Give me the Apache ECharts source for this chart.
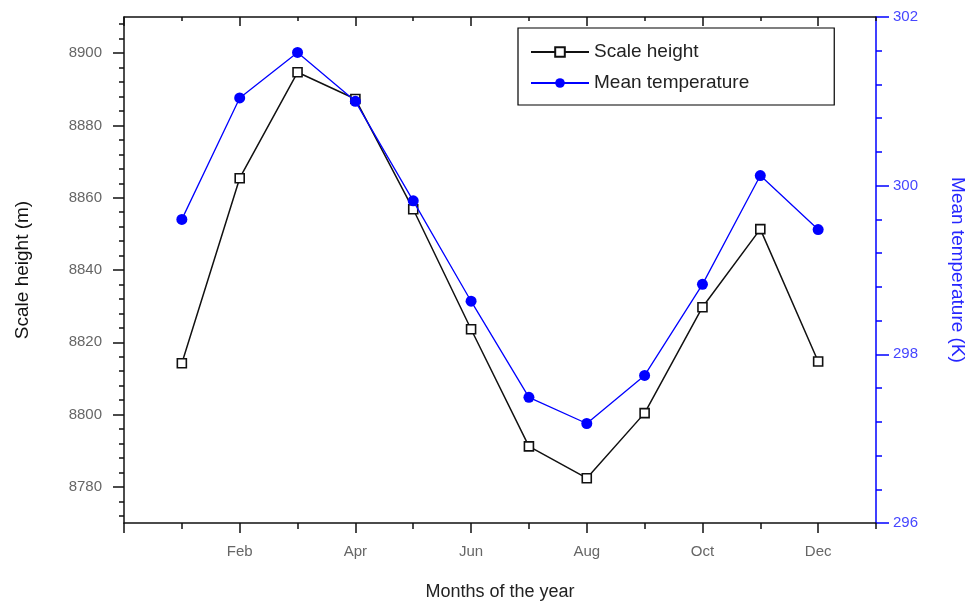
<!DOCTYPE html>
<html>
<head>
<meta charset="utf-8">
<script src="https://cdn.jsdelivr.net/npm/echarts@6/dist/echarts.min.js"></script>
<style>
  html, body { margin: 0; padding: 0; background: #fff; }
  #chart { width: 969px; height: 603px; }
</style>
</head>
<body>
<div id="chart"></div>
<script>
// Month positions on the x axis (1 = Jan ... 12 = Dec)
const months = ['Jan', 'Feb', 'Mar', 'Apr', 'May', 'Jun', 'Jul', 'Aug', 'Sep', 'Oct', 'Nov', 'Dec'];
const monthIndex = [1, 2, 3, 4, 5, 6, 7, 8, 9, 10, 11, 12];

// Scale height (m) per month
const scaleHeight = [8814.2, 8865.4, 8894.7, 8887.3, 8856.8, 8823.6, 8791.2, 8782.4, 8800.4, 8829.7, 8851.3, 8814.7];
// Mean temperature (K) per month
const meanTemp = [299.60, 301.04, 301.58, 301.00, 299.82, 298.63, 297.49, 297.18, 297.75, 298.83, 300.12, 299.48];

// Axis tick values
const xMajorTicks = [0, 2, 4, 6, 8, 10, 12];
const xMinorTicks = [1, 3, 5, 7, 9, 11, 13];
const xLabelTicks = [2, 4, 6, 8, 10, 12];
const leftLabelTicks = [8780, 8800, 8820, 8840, 8860, 8880, 8900];
const leftMinorTicks = [];
for (let v = 8772; v <= 8908; v += 4) leftMinorTicks.push(v);

const FONT = 'Arial, "Liberation Sans", sans-serif';
const BLUE = '#0000ff';

const chart = echarts.init(document.getElementById('chart'), null, { renderer: 'canvas' });

const xRange = { min: 0, max: 13 };
const hHidden = { axisLabel: { show: false }, splitLine: { show: false } };

chart.setOption({
  backgroundColor: '#ffffff',
  animation: false,
  grid: { left: 124, right: 93, top: 17, bottom: 80, containLabel: false, outerBoundsMode: 'none' },
  legend: {
    orient: 'vertical',
    left: 518,
    top: 28,
    padding: [14, 85, 12, 12],
    itemGap: 11,
    itemWidth: 58,
    itemHeight: 12,
    borderColor: '#000',
    borderWidth: 1.2,
    borderRadius: 0,
    textStyle: { fontFamily: FONT, fontSize: 19, color: '#222', lineHeight: 20 },
    data: ['Scale height', 'Mean temperature']
  },
  xAxis: [
    {
      type: 'value', position: 'bottom', ...xRange,
      name: 'Months of the year', nameLocation: 'middle', nameGap: 60,
      nameTextStyle: { fontFamily: FONT, fontSize: 18, color: '#222' },
      axisLine: { show: true, onZero: false, lineStyle: { color: '#111', width: 1.5 } },
      axisTick: { show: true, inside: false, length: 10, customValues: xMajorTicks, lineStyle: { color: '#111', width: 1.5 } },
      axisLabel: {
        show: true, customValues: xLabelTicks, margin: 21,
        fontFamily: FONT, fontSize: 15, color: '#666',
        formatter: v => months[Math.round(v) - 1] || ''
      },
      splitLine: { show: false }
    },
    {
      type: 'value', position: 'bottom', ...xRange, ...hHidden,
      axisLine: { show: false, onZero: false },
      axisTick: { show: true, inside: false, length: 6, customValues: xMinorTicks, lineStyle: { color: '#111', width: 1.5 } }
    },
    {
      type: 'value', position: 'top', ...xRange, ...hHidden,
      axisLine: { show: true, onZero: false, lineStyle: { color: '#111', width: 1.5 } },
      axisTick: { show: true, inside: true, length: 9, customValues: xMajorTicks, lineStyle: { color: '#111', width: 1.5 } }
    },
    {
      type: 'value', position: 'top', ...xRange, ...hHidden,
      axisLine: { show: false, onZero: false },
      axisTick: { show: true, inside: true, length: 4, customValues: xMinorTicks, lineStyle: { color: '#111', width: 1.5 } }
    }
  ],
  yAxis: [
    {
      type: 'value', position: 'left', min: 8770, max: 8910,
      name: 'Scale height (m)', nameLocation: 'middle', nameGap: 92,
      nameTextStyle: { fontFamily: FONT, fontSize: 19, color: '#111' },
      axisLine: { show: true, onZero: false, lineStyle: { color: '#111', width: 1.5 } },
      axisTick: { show: true, inside: false, length: 11, customValues: leftLabelTicks, lineStyle: { color: '#111', width: 1.5 } },
      axisLabel: {
        show: true, customValues: leftLabelTicks, margin: 22,
        fontFamily: FONT, fontSize: 15, color: '#666',
        formatter: v => String(Math.round(v))
      },
      splitLine: { show: false }
    },
    {
      type: 'value', position: 'left', min: 8770, max: 8910,
      axisLine: { show: false, onZero: false },
      axisTick: { show: true, inside: false, length: 5, customValues: leftMinorTicks, lineStyle: { color: '#111', width: 1.5 } },
      axisLabel: { show: false }, splitLine: { show: false }
    },
    {
      type: 'value', position: 'right', min: 296, max: 302, interval: 2,
      name: 'Mean temperature (K)', nameLocation: 'middle', nameGap: 72, nameRotate: -90,
      nameTextStyle: { fontFamily: FONT, fontSize: 19, color: '#2626ff' },
      axisLine: { show: true, onZero: false, lineStyle: { color: BLUE, width: 1.5 } },
      axisTick: { show: true, inside: false, length: 13, lineStyle: { color: BLUE, width: 1.5 } },
      minorTick: { show: true, splitNumber: 5, length: 6, lineStyle: { color: BLUE, width: 1.5 } },
      axisLabel: { show: true, margin: 17, fontFamily: FONT, fontSize: 15, color: '#4646ff' },
      splitLine: { show: false }, minorSplitLine: { show: false }
    }
  ],
  series: [
    {
      name: 'Scale height', type: 'line', xAxisIndex: 0, yAxisIndex: 0,
      data: monthIndex.map((m, i) => [m, scaleHeight[i]]),
      symbol: 'rect', symbolSize: 9,
      lineStyle: { color: '#111', width: 1.5 },
      itemStyle: { color: '#fff', borderColor: '#111', borderWidth: 1.6 },
      z: 2
    },
    {
      name: 'Mean temperature', type: 'line', xAxisIndex: 0, yAxisIndex: 2,
      data: monthIndex.map((m, i) => [m, meanTemp[i]]),
      symbol: 'circle', symbolSize: 11,
      lineStyle: { color: BLUE, width: 1.3 },
      itemStyle: { color: BLUE, borderColor: BLUE, borderWidth: 0 },
      z: 3
    }
  ]
});
</script>
</body>
</html>
